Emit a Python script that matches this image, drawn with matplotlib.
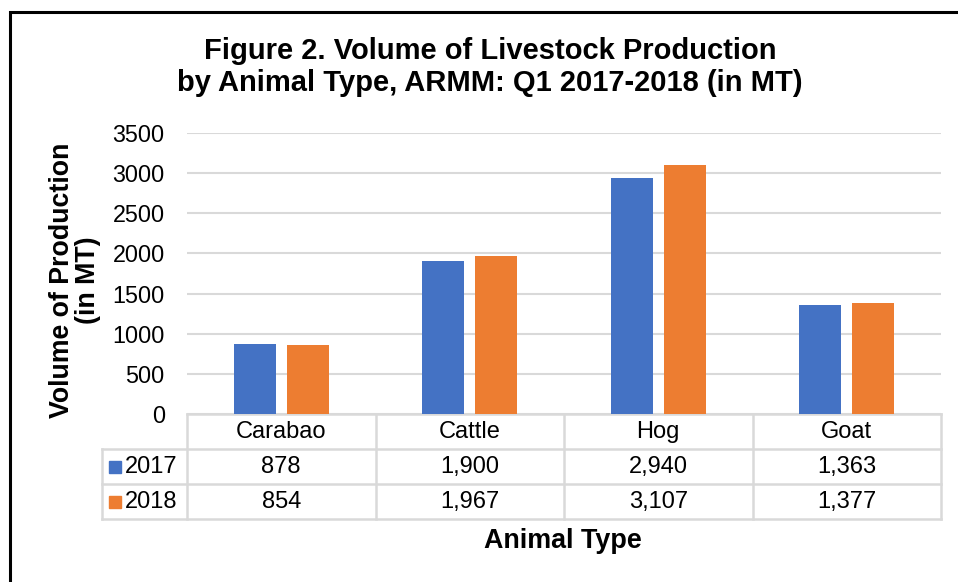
import matplotlib.pyplot as plt
from matplotlib.patches import Rectangle
from matplotlib.transforms import blended_transform_factory
import numpy as np

plt.rcParams['font.family'] = ['Liberation Sans', 'DejaVu Sans']

animals = ['Carabao', 'Cattle', 'Hog', 'Goat']
years = ['2017', '2018']
vol_2017 = [878, 1900, 2940, 1363]
vol_2018 = [854, 1967, 3107, 1377]
colors = ['#4472C4', '#ED7D31']
grid_c = '#d9d9d9'

W, H = 958, 582
fig = plt.figure(figsize=(W / 100, H / 100), dpi=100)
ax = fig.add_axes([187 / W, (H - 414) / H, 754 / W, 281 / H])

x = np.arange(len(animals))
bw = 0.223
off = 0.1415
ax.bar(x - off, vol_2017, bw, color=colors[0], zorder=3)
ax.bar(x + off, vol_2018, bw, color=colors[1], zorder=3)

ax.set_xlim(-0.5, len(animals) - 0.5)
ax.set_ylim(0, 3500)
ax.set_yticks(np.arange(0, 3501, 500))
ax.yaxis.grid(True, color=grid_c, lw=1.5, zorder=0)
ax.set_xticks([])
ax.tick_params(axis='y', length=0, labelsize=16.8, pad=16)
for s in ax.spines.values():
    s.set_visible(False)

# data table under the axes
tr = blended_transform_factory(ax.transData, fig.transFigure)
def fy(p):
    return (H - p) / H

x_leg = -0.5 - 85 / 188.5
rows = [414, 449, 484, 519]
ax.plot([-0.5, 3.5], [fy(414)] * 2, color=grid_c, lw=1.8, transform=tr, clip_on=False)
for r in rows[1:]:
    ax.plot([x_leg, 3.5], [fy(r)] * 2, color=grid_c, lw=1.8, transform=tr, clip_on=False)
for xv in np.arange(-0.5, 3.6, 1.0):
    ax.plot([xv, xv], [fy(414), fy(519)], color=grid_c, lw=1.8, transform=tr, clip_on=False)
ax.plot([x_leg, x_leg], [fy(449), fy(519)], color=grid_c, lw=1.8, transform=tr, clip_on=False)

fs = 17
for i, a in enumerate(animals):
    ax.text(i, fy(432), a, ha='center', va='center', fontsize=fs, transform=tr)
    ax.text(i, fy(467), f'{vol_2017[i]:,}', ha='center', va='center', fontsize=fs, transform=tr)
    ax.text(i, fy(502), f'{vol_2018[i]:,}', ha='center', va='center', fontsize=fs, transform=tr)

for k, (yr, c) in enumerate(zip(years, colors)):
    yc = 467 + 35 * k
    fig.patches.append(Rectangle((109 / W, fy(yc + 6)), 12 / W, 12 / H, color=c,
                                 transform=fig.transFigure))
    fig.text(125 / W, fy(yc), yr, ha='left', va='center', fontsize=fs)

fig.text(563 / W, fy(541), 'Animal Type', ha='center', va='center',
         fontsize=19.4, fontweight='bold')
fig.text(75 / W, fy(280), 'Volume of Production\n(in MT)', ha='center', va='center',
         rotation=90, fontsize=19.3, fontweight='bold', linespacing=1.0)

fig.text(490 / W, fy(67), 'Figure 2. Volume of Livestock Production\nby Animal Type, ARMM: Q1 2017-2018 (in MT)',
         ha='center', va='center', fontsize=21, fontweight='bold', linespacing=1.2)

# outer border (only top and left visible)
fig.patches.append(Rectangle((10 / W, -0.1), 1.2, fy(12) + 0.1, fill=False,
                             edgecolor='black', lw=2.2, transform=fig.transFigure))

fig.savefig('out.png', dpi=100)
